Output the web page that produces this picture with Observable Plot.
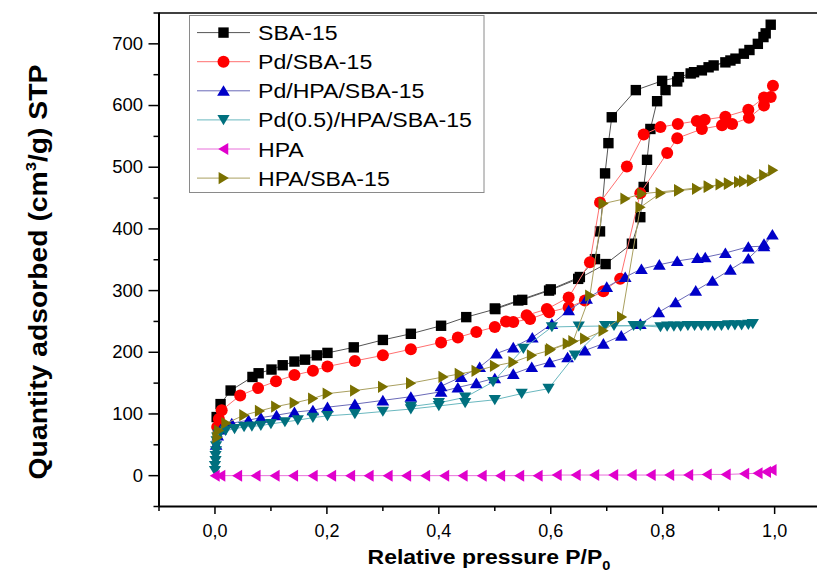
<!DOCTYPE html>
<html><head><meta charset="utf-8">
<script src="https://cdn.jsdelivr.net/npm/d3@7"></script>
<script src="https://cdn.jsdelivr.net/npm/@observablehq/plot@0.6"></script>
<style>
body{margin:0;background:#fff;}
#wrap{position:relative;width:817px;height:575px;overflow:hidden;background:#fff;}
#legend{position:absolute;left:0;top:0;pointer-events:none;}
</style>
</head><body><div id="wrap"></div>
<script>
// ---- data (P/P0, quantity adsorbed) ----
const seriesNames = ["SBA-15","Pd/SBA-15","Pd/HPA/SBA-15","Pd(0.5)/HPA/SBA-15","HPA","HPA/SBA-15"];

const sba15 = [
 [0.003,95],[0.010,116],[0.028,138],[0.067,160],[0.078,166],[0.101,172],[0.121,179],[0.142,185],[0.161,188],[0.182,195],[0.201,199],
 [0.248,208],[0.300,220],[0.350,230],[0.404,243],[0.449,257],[0.501,270],[0.549,285],[0.597,300],[0.649,319],[0.698,343],[0.745,376],
 [0.760,419],[0.766,468],[0.772,512],[0.778,562],[0.790,607],[0.805,625],[0.826,639],[0.856,654],[0.870,657],[0.891,665],[0.921,673],
 [0.945,684],[0.970,700],[0.984,717],[0.993,731],
 [0.980,711],[0.955,690],[0.930,676],[0.912,670],[0.882,662],[0.850,652],[0.829,646],[0.799,640],[0.752,625],[0.709,581],[0.703,539],
 [0.697,490],[0.688,396],[0.679,351],[0.652,322],[0.600,302],[0.542,284],[0.500,271]
];
const pdSba15 = [
 [0.004,79],[0.007,92],[0.012,106],[0.045,130],[0.077,142],[0.109,153],[0.142,163],[0.175,170],[0.201,177],[0.250,186],[0.300,195],
 [0.350,205],[0.404,216],[0.434,224],[0.467,233],[0.500,241],[0.533,249],[0.563,254],[0.597,265],[0.632,273],[0.661,284],[0.694,299],
 [0.724,319],[0.760,458],[0.808,523],[0.826,547],[0.870,562],[0.906,568],[0.924,570],[0.954,580],[0.981,600],[0.997,632],
 [0.993,614],[0.981,613],[0.953,593],[0.912,582],[0.875,577],[0.861,575],[0.827,570],[0.796,565],[0.766,553],[0.736,501],[0.688,443],
 [0.670,346],[0.632,289],[0.593,270],[0.557,260],[0.520,250]
];
const pdHpaSba15 = [
 [0.002,50],[0.005,65],[0.010,75],[0.030,85],[0.060,90],[0.082,94],[0.110,98],[0.142,103],[0.175,106],[0.201,111],[0.250,116],[0.300,122],
 [0.350,128],[0.404,136],[0.434,143],[0.467,150],[0.500,158],[0.533,165],[0.566,176],[0.598,184],[0.630,192],[0.661,203],[0.694,214],
 [0.726,227],[0.760,246],[0.793,265],[0.823,281],[0.859,300],[0.889,316],[0.921,334],[0.953,352],[0.981,376],[0.996,391],
 [0.981,372],[0.953,371],[0.912,361],[0.876,354],[0.862,353],[0.826,348],[0.794,342],[0.762,335],[0.733,322],[0.700,306],[0.664,287],
 [0.632,268],[0.602,246],[0.567,224],[0.533,208],[0.503,198],[0.473,176],[0.440,160],[0.404,145]
];
const pd05HpaSba15 = [
 [0.000,8],[0.000,16],[0.001,24],[0.001,32],[0.002,40],[0.002,48],[0.003,56],[0.004,62],[0.006,67],[0.010,70],[0.019,73],[0.035,76],
 [0.052,79],[0.066,80],[0.082,81],[0.100,84],[0.125,87],[0.148,90],[0.175,94],[0.201,97],[0.250,100],[0.300,104],[0.350,108],[0.400,113],
 [0.447,118],[0.500,123],[0.548,133],[0.596,141],[0.643,195],[0.697,243],[0.713,243],[0.748,243],[0.760,243],[0.796,241],[0.808,242],
 [0.820,242],[0.832,242],[0.845,243],[0.857,243],[0.869,243],[0.881,243],[0.893,243],[0.905,243],[0.917,244],[0.929,244],[0.941,244],
 [0.953,245],[0.961,246],
 [0.650,242],[0.602,241],[0.551,206],[0.497,152],[0.447,127],[0.400,118],[0.350,112]
];
const hpa = [
 [0.000,0],[0.010,0],[0.040,0],[0.073,0],[0.107,0],[0.140,0],[0.175,0],[0.208,0],[0.242,0],[0.275,0],[0.309,0],[0.342,0],[0.376,0],
 [0.410,0],[0.443,0],[0.477,0],[0.510,0],[0.544,0],[0.577,0],[0.611,1],[0.645,1],[0.678,1],[0.712,1],[0.745,1],[0.779,1],[0.812,1],
 [0.846,1],[0.879,2],[0.913,2],[0.946,3],[0.970,4],[0.985,6],[0.995,9]
];
const hpaSba15 = [
 [0.004,62],[0.007,73],[0.020,85],[0.052,98],[0.080,105],[0.109,112],[0.142,118],[0.175,125],[0.201,133],[0.250,138],[0.300,144],
 [0.350,150],[0.408,160],[0.437,165],[0.467,170],[0.500,178],[0.533,184],[0.566,195],[0.598,203],[0.630,214],[0.661,222],[0.694,235],
 [0.727,257],[0.760,435],[0.796,458],[0.829,462],[0.861,465],[0.882,468],[0.903,472],[0.918,473],[0.936,476],[0.945,477],[0.959,478],
 [0.981,487],[0.997,495],
 [0.960,479],[0.918,474],[0.882,469],[0.829,463],[0.763,457],[0.733,449],[0.694,441],[0.670,292],[0.640,218],[0.600,205]
];

const xMajorTicks = [0, 0.2, 0.4, 0.6, 0.8, 1.0];
const xMinorTicks = [-0.1, 0.1, 0.3, 0.5, 0.7, 0.9];
const yMajorTicks = [0, 100, 200, 300, 400, 500, 600, 700];
const yMinorTicks = [-50, 50, 150, 250, 350, 450, 550, 650, 750];

// ---- symbols ----
const poly = pts => ({draw(ctx, size){
  const r = Math.sqrt(size/Math.PI);
  ctx.moveTo(pts[0][0]*r, pts[0][1]*r);
  for (let i=1;i<pts.length;i++) ctx.lineTo(pts[i][0]*r, pts[i][1]*r);
  ctx.closePath();
}});
const symSquare = poly([[-1,-1],[1,-1],[1,1],[-1,1]]);
const symUp = poly([[0,-1.05],[1.2,0.95],[-1.2,0.95]]);
const symDown = poly([[0,1.05],[1.2,-0.95],[-1.2,-0.95]]);
const symLeft = poly([[-1.05,0],[0.95,-1.2],[0.95,1.2]]);
const symRight = poly([[1.05,0],[-0.95,-1.2],[-0.95,1.2]]);
const symCircle = d3.symbolCircle;

const series = [
  {name: seriesNames[0], data: sba15, fill: "#000000", line: "#555555", symbol: symSquare, r: 5.2},
  {name: seriesNames[1], data: pdSba15, fill: "#ff0000", line: "#ff7070", symbol: symCircle, r: 6},
  {name: seriesNames[2], data: pdHpaSba15, fill: "#0000c8", line: "#6a6ab8", symbol: symUp, r: 5.3},
  {name: seriesNames[3], data: pd05HpaSba15, fill: "#00707e", line: "#6ab8bf", symbol: symDown, r: 5.1},
  {name: seriesNames[4], data: hpa, fill: "#e000cc", line: "#e870da", symbol: symLeft, r: 5},
  {name: seriesNames[5], data: hpaSba15, fill: "#7a7000", line: "#aaa060", symbol: symRight, r: 5.1}
];

const fmtX = d => d.toFixed(1).replace(".", ",");

const marks = [];
for (const s of series) {
  marks.push(Plot.line(s.data, {x: d => d[0], y: d => d[1], stroke: s.line, strokeWidth: 1}));
  marks.push(Plot.dot(s.data, {x: d => d[0], y: d => d[1], symbol: s.symbol, r: s.r, fill: s.fill, stroke: "none"}));
}
marks.push(
  Plot.ruleY([750], {stroke: "black", strokeWidth: 1.5}),
  Plot.ruleY([-50], {stroke: "black", strokeWidth: 2}),
  Plot.ruleX([-0.1], {stroke: "black", strokeWidth: 2}),
  Plot.axisY(yMajorTicks, {anchor: "left", tickSize: 10, tickPadding: 6, fontSize: 18.5, tickFormat: d => String(d), strokeWidth: 1.5, label: null}),
  Plot.axisY(yMinorTicks, {anchor: "left", tickSize: 5, tickFormat: () => "", strokeWidth: 1.5, label: null}),
  Plot.axisX(xMajorTicks, {anchor: "bottom", tickSize: 8, tickPadding: 10, fontSize: 18, tickFormat: fmtX, strokeWidth: 1.5, label: null}),
  Plot.axisX(xMinorTicks, {anchor: "bottom", tickSize: 5, tickFormat: () => "", strokeWidth: 1.5, label: null})
);

const chart = Plot.plot({
  width: 817, height: 575,
  marginLeft: 158.5, marginRight: 0, marginTop: 12.5, marginBottom: 69,
  x: {domain: [-0.1, 1.1], range: [158.5, 830.1]},
  y: {domain: [-50, 750]},
  style: {fontFamily: "'Liberation Sans', Arial, sans-serif", fontSize: "18px", color: "black", background: "white", overflow: "hidden"},
  marks
});
document.getElementById("wrap").appendChild(chart);

// ---- axis titles ----
const svg = d3.select(chart);
const yt = svg.append("text")
  .attr("transform", "translate(46.5,272) rotate(-90) scale(1.11,1)")
  .attr("text-anchor", "middle")
  .attr("font-family", "'Liberation Sans', Arial, sans-serif")
  .attr("font-weight", "bold").attr("font-size", 25.5).attr("fill", "black");
yt.append("tspan").text("Quantity adsorbed (cm");
yt.append("tspan").attr("font-size", 15).attr("dy", -11).text("3");
yt.append("tspan").attr("dy", 11).text("/g) STP");

const xt = svg.append("text")
  .attr("transform", "translate(489,564) scale(1.12,1)")
  .attr("text-anchor", "middle")
  .attr("font-family", "'Liberation Sans', Arial, sans-serif")
  .attr("font-weight", "bold").attr("font-size", 20.5).attr("fill", "black");
xt.append("tspan").text("Relative pressure P/P");
xt.append("tspan").attr("font-size", 13).attr("dy", 6).text("0");

// ---- legend ----
const lg = d3.select("#wrap").append("svg").attr("id", "legend").attr("width", 817).attr("height", 575);
lg.append("rect").attr("x", 189.5).attr("y", 15.5).attr("width", 294.5).attr("height", 177)
  .attr("fill", "white").attr("stroke", "#8a8a8a").attr("stroke-width", 1);
series.forEach((s, i) => {
  const cy = 32.6 + i * 29.1;
  lg.append("line").attr("x1", 197).attr("x2", 250).attr("y1", cy).attr("y2", cy).attr("stroke", s.line).attr("stroke-width", 1);
  lg.append("path").attr("transform", `translate(223.5,${cy})`)
    .attr("d", d3.symbol(s.symbol, Math.PI * s.r * s.r)()).attr("fill", s.fill);
  lg.append("text").attr("transform", `translate(258,${cy + 7.5}) scale(1.1,1)`)
    .attr("font-family", "'Liberation Sans', Arial, sans-serif").attr("font-size", 21).attr("fill", "black")
    .text(s.name);
});
</script></body></html>
